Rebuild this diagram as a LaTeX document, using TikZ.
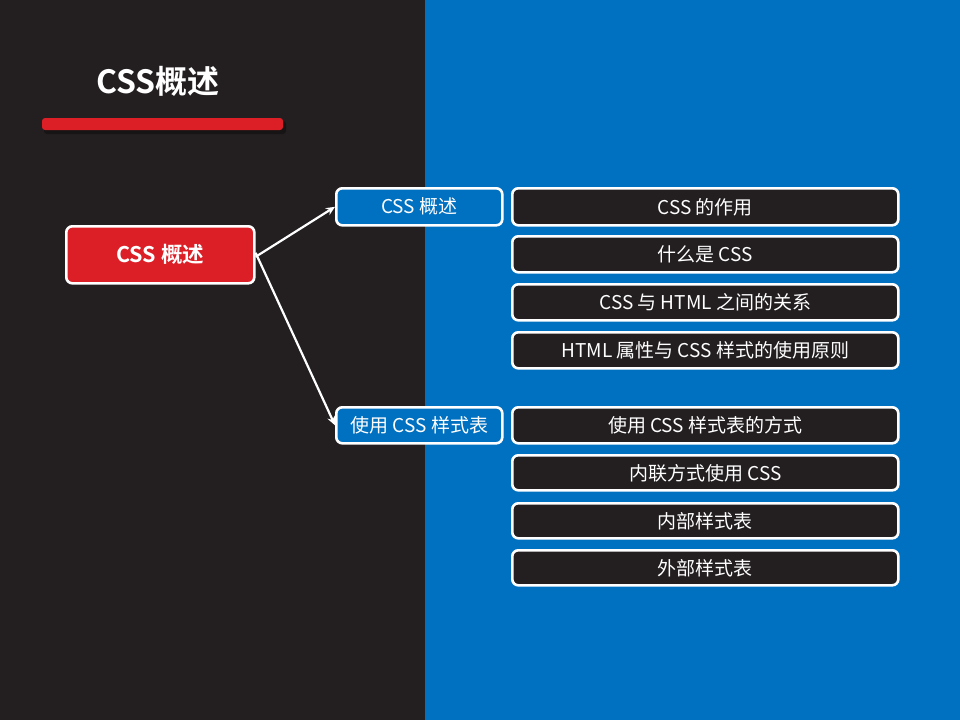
\documentclass[tikz,border=0pt]{standalone}
\usepackage{fontspec}
\setmainfont{Noto Sans CJK SC}
\newfontfamily\cjkb{Noto Sans CJK SC Bold}
\usetikzlibrary{arrows.meta,shadows}
\definecolor{darkbg}{HTML}{231F20}
\definecolor{bluebg}{HTML}{0070C0}
\definecolor{redc}{HTML}{DC1E26}
\tikzset{
  box/.style={draw=white, line width=2.6pt, rounded corners=6pt, text=white, inner sep=0pt, anchor=north west},
  mainbox/.style={box, fill=redc, font=\cjkb\fontsize{21.5}{25}\selectfont},
  midbox/.style={box, fill=bluebg, font=\fontsize{19}{22}\selectfont},
  itembox/.style={box, fill=darkbg, font=\fontsize{19}{22}\selectfont},
  conn/.style={draw=white, line width=2.2pt, -{Stealth[length=9pt,width=8pt]}}
}
\begin{document}
\begin{tikzpicture}[x=1pt,y=-1pt]
\fill[darkbg] (0,0) rectangle (425,720);
\fill[bluebg] (425,0) rectangle (960,720);
\useasboundingbox (0,0) rectangle (960,720);
% title
\node[text=white, font=\cjkb\fontsize{32}{36}\selectfont] (title) at (158,81) {CSS概述};
\fill[black, opacity=0.35, rounded corners=3pt] (44,121) rectangle (286,134);
\fill[redc, rounded corners=3pt] (42,118) rectangle (283,130);
% main
\node[mainbox, minimum width=188pt, minimum height=57pt] (main) at (65,225) {CSS 概述};
% level 2
\node[midbox, minimum width=166pt, minimum height=37pt] (m1) at (335,187) {CSS 概述};
\node[midbox, minimum width=166pt, minimum height=36pt] (m2) at (335,406) {使用 CSS 样式表};
% items
\node[itembox, minimum width=386pt, minimum height=37pt] (i1) at (511,187) {CSS 的作用};
\node[itembox, minimum width=386pt, minimum height=36pt] (i2) at (511,235) {什么是 CSS};
\node[itembox, minimum width=386pt, minimum height=36pt] (i3) at (511,283) {CSS 与 HTML 之间的关系};
\node[itembox, minimum width=386pt, minimum height=36pt] (i4) at (511,331) {HTML 属性与 CSS 样式的使用原则};
\node[itembox, minimum width=386pt, minimum height=36pt] (i5) at (511,406) {使用 CSS 样式表的方式};
\node[itembox, minimum width=386pt, minimum height=35pt] (i6) at (511,454) {内联方式使用 CSS};
\node[itembox, minimum width=386pt, minimum height=35pt] (i7) at (511,502) {内部样式表};
\node[itembox, minimum width=386pt, minimum height=35pt] (i8) at (511,549) {外部样式表};
% connectors
\draw[conn] ([yshift=-2pt]main.east) -- (m1.west);
\draw[conn] ([yshift=2pt]main.east) -- (m2.west);
\end{tikzpicture}
\end{document}
